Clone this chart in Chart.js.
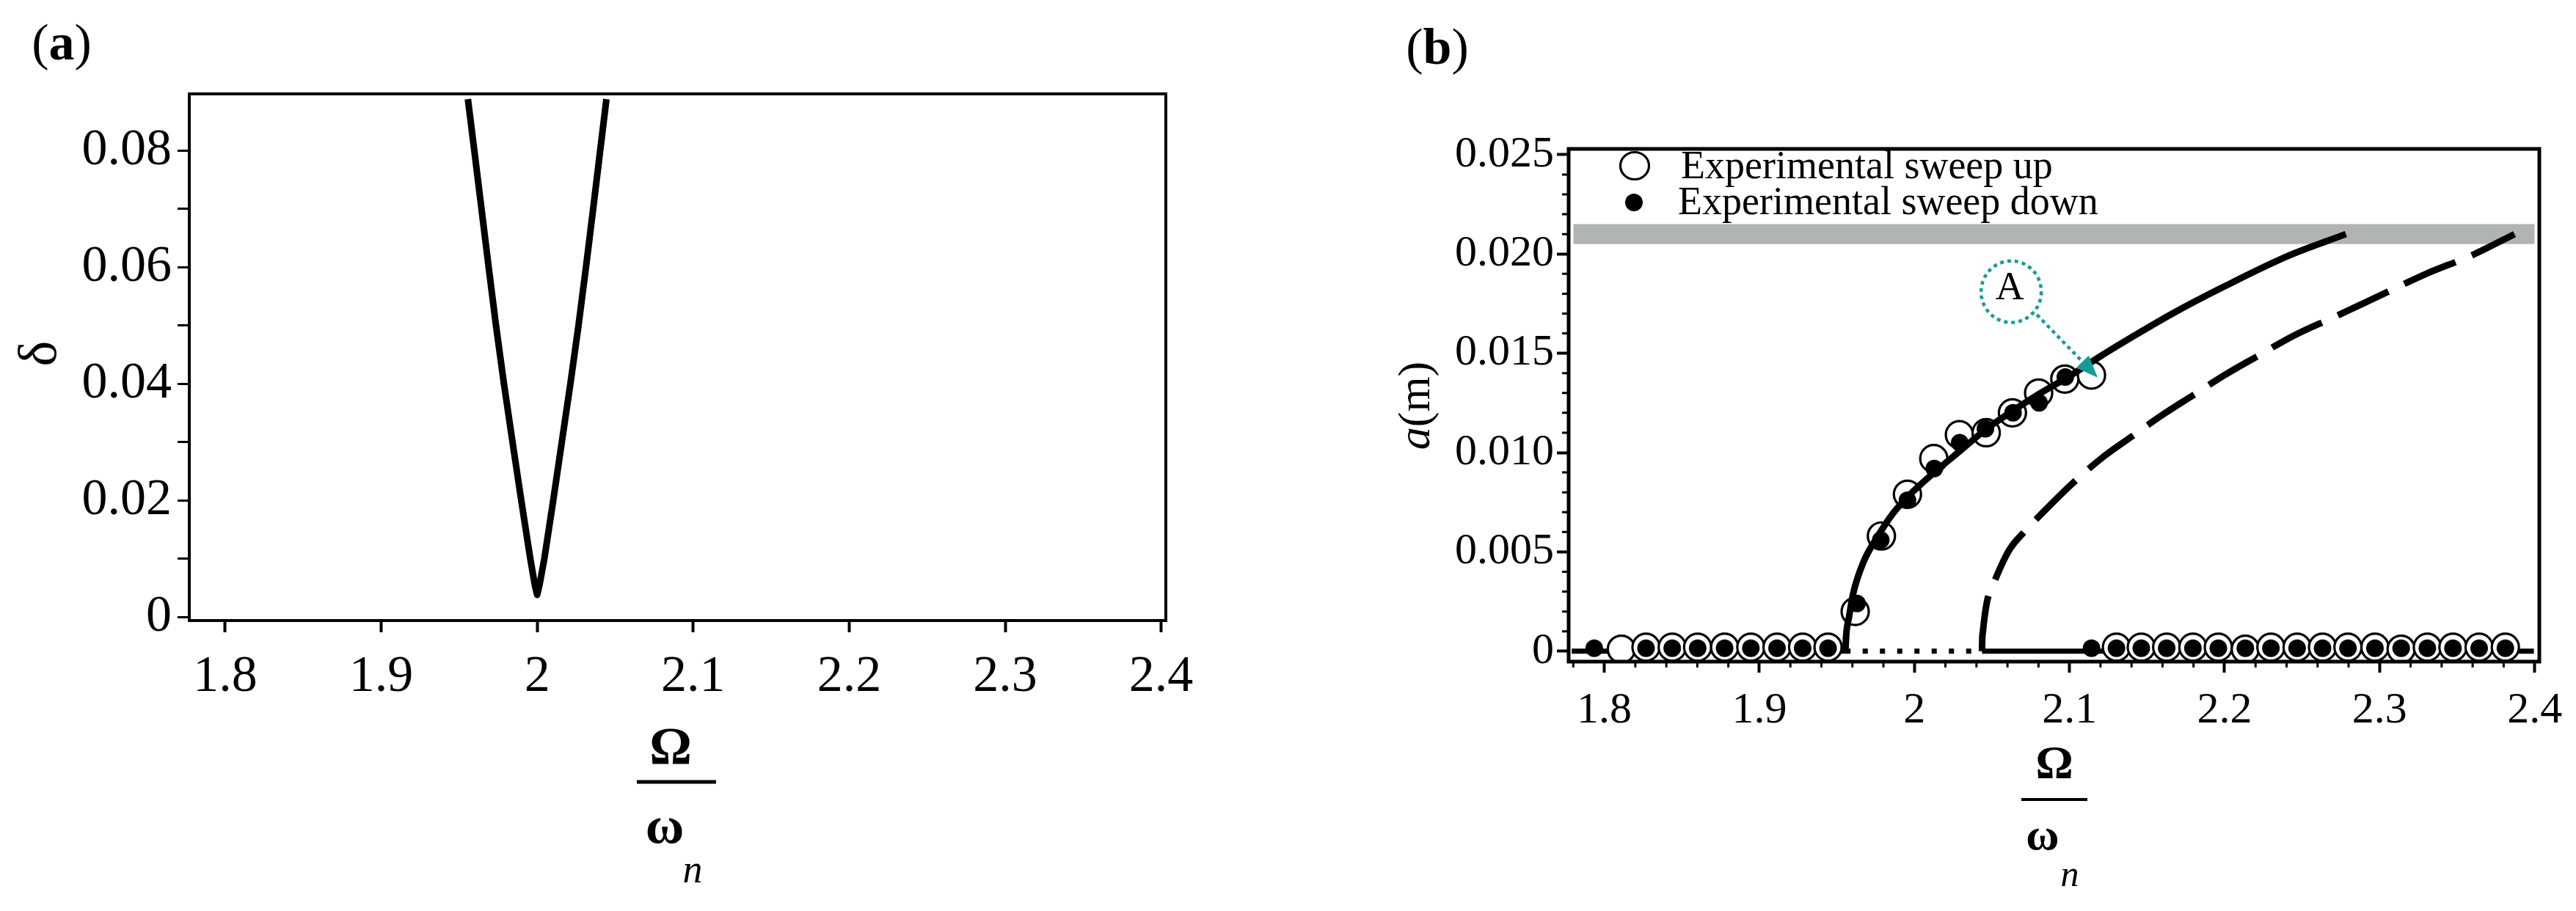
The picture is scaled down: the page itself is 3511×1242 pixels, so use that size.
<!DOCTYPE html>
<html>
<head>
<meta charset="utf-8">
<title>Instability tongue and response curve</title>
<script src="https://cdn.jsdelivr.net/npm/chart.js@4.4.1/dist/chart.umd.min.js"></script>
<style>
  html, body { margin: 0; padding: 0; background: #fff; }
  #wrap { position: relative; width: 3511px; height: 1242px; overflow: hidden; background: #fff; }
  canvas { position: absolute; top: 0; }
  #chartA { left: 0; }
  #chartB { left: 1760px; }
</style>
</head>
<body>
<div id="wrap">
  <canvas id="chartA" width="1760" height="1242"></canvas>
  <canvas id="chartB" width="1751" height="1242"></canvas>
</div>
<script>
// ---- values ----
const xTicks = [1.8, 1.9, 2.0, 2.1, 2.2, 2.3, 2.4];
const xTickLabels = ['1.8', '1.9', '2', '2.1', '2.2', '2.3', '2.4'];

// panel (a): delta vs Omega/omega_n
const yTicksA = [0, 0.01, 0.02, 0.03, 0.04, 0.05, 0.06, 0.07, 0.08];
const yTickLabelsA = ['0', '', '0.02', '', '0.04', '', '0.06', '', '0.08'];
const tongueX = [1.9556, 1.9597, 1.9643, 1.9689, 1.9736, 1.9787, 1.9842, 1.9898, 1.9956, 1.9985, 2.0000,
                 2.0015, 2.0046, 2.0103, 2.0158, 2.0213, 2.0265, 2.0313, 2.0359, 2.0404, 2.0444];
const tongueY = [0.0888, 0.0800, 0.0700, 0.0600, 0.0500, 0.0400, 0.0300, 0.0200, 0.0100, 0.0055, 0.0038,
                 0.0055, 0.0100, 0.0200, 0.0300, 0.0400, 0.0500, 0.0600, 0.0700, 0.0800, 0.0888];

// panel (b): amplitude vs Omega/omega_n
const yTicksB = [0, 0.005, 0.010, 0.015, 0.020, 0.025];
const yTickLabelsB = ['0', '0.005', '0.010', '0.015', '0.020', '0.025'];
const xMinorB = [1.78, 1.82, 1.84, 1.86, 1.88, 1.92, 1.94, 1.96, 1.98, 2.02, 2.04, 2.06, 2.08,
                 2.12, 2.14, 2.16, 2.18, 2.22, 2.24, 2.26, 2.28, 2.32, 2.34, 2.36, 2.38];
const yMinorB = [0.001, 0.002, 0.003, 0.004, 0.006, 0.007, 0.008, 0.009, 0.011, 0.012, 0.013, 0.014,
                 0.016, 0.017, 0.018, 0.019, 0.021, 0.022, 0.023, 0.024];

const bandX = [1.780, 2.400];
const bandLow = 0.0205;
const bandHigh = 0.0215;

const zeroLeftX = [1.7790, 1.9555];
const zeroRightX = [2.0436, 2.3995];
const zeroDottedX = [1.9555, 2.0436];

const stableX = [1.9555, 1.9560, 1.9579, 1.9605, 1.9672, 1.9757, 1.9858, 1.9960, 2.0128, 2.0297,
                 2.0466, 2.0634, 2.0804, 2.0990, 2.1200, 2.1400, 2.1664, 2.2008, 2.2410, 2.2783];
const stableY = [0, 0.0008, 0.00175, 0.0029, 0.0045, 0.0057, 0.0069, 0.0078, 0.0090, 0.0101,
                 0.0112, 0.0121, 0.01295, 0.0138, 0.01485, 0.0158, 0.0170, 0.0184, 0.0199, 0.0210];

const unstableX = [2.0436, 2.0437, 2.0442, 2.0452, 2.0471, 2.0515, 2.0612, 2.0720, 2.0830, 2.1040,
                   2.1220, 2.1400, 2.1600, 2.1800, 2.2000, 2.2200, 2.2450, 2.2700, 2.3000, 2.3300,
                   2.3600, 2.3870];
const unstableY = [0, 0.0005, 0.0010, 0.0017, 0.0026, 0.0035, 0.0051, 0.0061, 0.0070, 0.0086,
                   0.0098, 0.0108, 0.0119, 0.0129, 0.0139, 0.0148, 0.0159, 0.0168, 0.0179, 0.0190,
                   0.01995, 0.0210];

const sweepUpX = [1.8110, 1.8269, 1.8438, 1.8602, 1.8776, 1.8945, 1.9114, 1.9279, 1.9443,
                  1.9618, 1.9787, 1.9955, 2.0125, 2.0290, 2.0463, 2.0632, 2.0801, 2.0970, 2.1142,
                  2.1303, 2.1463, 2.1627, 2.1796, 2.1960, 2.2134, 2.2299, 2.2468, 2.2632, 2.2796,
                  2.2970, 2.3139, 2.3308, 2.3473, 2.3642, 2.3811];
const sweepUpY = [0.0001, 0.0002, 0.0002, 0.0002, 0.0002, 0.0002, 0.0002, 0.0002, 0.0002,
                  0.0020, 0.0058, 0.0079, 0.0097, 0.0109, 0.0110, 0.0120, 0.0130, 0.0137, 0.0139,
                  0.0002, 0.0002, 0.0002, 0.0002, 0.0002, 0.0001, 0.0002, 0.0002, 0.0002, 0.0002,
                  0.0002, 0.0001, 0.0002, 0.0002, 0.0002, 0.0002];

const sweepDownX = [1.7935, 1.8269, 1.8438, 1.8602, 1.8776, 1.8945, 1.9114, 1.9279, 1.9443,
                    1.9630, 1.9783, 1.9955, 2.0128, 2.0292, 2.0458, 2.0636, 2.0804, 2.0973,
                    2.1142, 2.1303, 2.1463, 2.1627, 2.1796, 2.1960, 2.2134, 2.2299, 2.2468, 2.2632,
                    2.2796, 2.2970, 2.3139, 2.3308, 2.3473, 2.3642, 2.3811];
const sweepDownY = [0.00015, 0.00015, 0.00015, 0.00015, 0.00015, 0.00015, 0.00015, 0.00015, 0.00015,
                    0.0024, 0.0056, 0.0076, 0.0092, 0.0105, 0.0112, 0.0120, 0.0125, 0.0138,
                    0.00015, 0.00015, 0.00015, 0.00015, 0.00015, 0.00015, 0.00015, 0.00015, 0.00015, 0.00015,
                    0.00015, 0.00015, 0.00015, 0.00015, 0.00015, 0.00015, 0.00015];

// annotation "A" (data units)
const noteCircle = [2.0624, 0.0181];
const noteArrowFrom = [2.0790, 0.01694];
const noteArrowTo = [2.1182, 0.01378];

const SERIF = '"Liberation Serif", "Times New Roman", serif';
const TEAL = '#179b96';

function pts(xs, ys) {
    return xs.map((x, i) => ({ x: x, y: ys[i] }));
}
function flat(xs, v) {
    return xs.map(x => ({ x: x, y: v }));
}

// frame around the plot area
const framePlugin = {
    id: 'frame',
    afterDatasetsDraw(chart, args, opts) {
        const { ctx, chartArea: a } = chart;
        ctx.save();
        ctx.strokeStyle = '#000';
        ctx.lineWidth = opts.width || 4;
        ctx.strokeRect(a.left, a.top, a.right - a.left, a.bottom - a.top);
        ctx.restore();
    }
};

// panel label like "(a)" with bold letter
function drawPanelLabel(ctx, letter, cx, cy, size) {
    ctx.save();
    ctx.textBaseline = 'middle';
    const fN = size + 'px ' + SERIF;
    const fB = 'bold ' + size + 'px ' + SERIF;
    ctx.font = fN; const wp = ctx.measureText('(').width;
    ctx.font = fB; const wl = ctx.measureText(letter).width;
    let x = cx - (2 * wp + wl) / 2;
    ctx.fillStyle = '#000';
    ctx.font = fN; ctx.fillText('(', x, cy); x += wp;
    ctx.font = fB; ctx.fillText(letter, x, cy); x += wl;
    ctx.font = fN; ctx.fillText(')', x, cy);
    ctx.restore();
}

// x title: Omega over omega with subscript n
function drawFraction(ctx, t) {
    ctx.save();
    ctx.fillStyle = '#000';
    ctx.textAlign = 'center';
    ctx.textBaseline = 'middle';
    ctx.font = 'bold ' + t.bigSize + 'px ' + SERIF;
    ctx.fillText('\u03A9', t.omegaBig[0], t.omegaBig[1]);
    ctx.fillRect(t.bar[0], t.bar[2] - t.barW / 2, t.bar[1] - t.bar[0], t.barW);
    ctx.font = 'bold ' + t.smallSize + 'px ' + SERIF;
    ctx.fillText('\u03C9', t.omega[0], t.omega[1]);
    ctx.font = 'italic ' + t.subSize + 'px ' + SERIF;
    ctx.fillText('n', t.sub[0], t.sub[1]);
    ctx.restore();
}

const textA = {
    id: 'textA',
    afterDraw(chart) {
        const ctx = chart.ctx;
        drawPanelLabel(ctx, 'a', 84, 63, 70);
        // y title delta, rotated
        ctx.save();
        ctx.translate(57, 482);
        ctx.rotate(-Math.PI / 2);
        ctx.textAlign = 'center';
        ctx.textBaseline = 'middle';
        ctx.fillStyle = '#000';
        ctx.font = '74px ' + SERIF;
        ctx.fillText('\u03B4', 0, 0);
        ctx.restore();
        drawFraction(ctx, {
            bigSize: 72, smallSize: 72, subSize: 54,
            omegaBig: [914, 1022], bar: [868, 976, 1066], barW: 5,
            omega: [906, 1130], sub: [944, 1189]
        });
    }
};

const axisDeco = {
    id: 'axisDeco',
    afterDraw(chart) {
        const { ctx, chartArea: a, scales } = chart;
        ctx.save();
        ctx.strokeStyle = '#000';
        ctx.lineWidth = 3;
        ctx.beginPath();
        xMinorB.forEach(v => {
            const px = scales.x.getPixelForValue(v);
            ctx.moveTo(px, a.bottom); ctx.lineTo(px, a.bottom + 8);
        });
        yMinorB.forEach(v => {
            const py = scales.y.getPixelForValue(v);
            ctx.moveTo(a.left, py); ctx.lineTo(a.left - 9, py);
        });
        ctx.stroke();
        ctx.restore();
    }
};

const textB = {
    id: 'textB',
    afterDraw(chart) {
        const ctx = chart.ctx;
        const sx = chart.scales.x, sy = chart.scales.y;
        drawPanelLabel(ctx, 'b', 199, 69, 70);

        // y title a(m)
        ctx.save();
        ctx.translate(172, 553);
        ctx.rotate(-Math.PI / 2);
        ctx.textBaseline = 'middle';
        ctx.fillStyle = '#000';
        const fi = 'italic 62px ' + SERIF, fn = '62px ' + SERIF;
        ctx.font = fi; const wa = ctx.measureText('a').width;
        ctx.font = fn; const wm = ctx.measureText('(m)').width;
        let x = -(wa + wm) / 2;
        ctx.font = fi; ctx.fillText('a', x, 0);
        ctx.font = fn; ctx.fillText('(m)', x + wa, 0);
        ctx.restore();

        drawFraction(ctx, {
            bigSize: 64, smallSize: 62, subSize: 50,
            omegaBig: [1040, 1044], bar: [995, 1085, 1090], barW: 4,
            omega: [1024, 1142], sub: [1061, 1195]
        });

        // legend
        ctx.save();
        ctx.strokeStyle = '#000';
        ctx.lineWidth = 3.2;
        ctx.fillStyle = '#fff';
        ctx.beginPath();
        ctx.ellipse(468, 226, 19.5, 18.5, 0, 0, Math.PI * 2);
        ctx.fill(); ctx.stroke();
        ctx.fillStyle = '#000';
        ctx.beginPath();
        ctx.arc(467, 276, 12, 0, Math.PI * 2);
        ctx.fill();
        ctx.font = '54px ' + SERIF;
        ctx.textBaseline = 'alphabetic';
        ctx.fillText('Experimental sweep up', 531, 243);
        ctx.fillText('Experimental sweep down', 527, 292);
        ctx.restore();

        // annotation A
        const cx = sx.getPixelForValue(noteCircle[0]), cy = sy.getPixelForValue(noteCircle[1]);
        const fx = sx.getPixelForValue(noteArrowFrom[0]), fy = sy.getPixelForValue(noteArrowFrom[1]);
        const tx = sx.getPixelForValue(noteArrowTo[0]), ty = sy.getPixelForValue(noteArrowTo[1]);
        ctx.save();
        ctx.strokeStyle = TEAL;
        ctx.lineWidth = 4.5;
        ctx.setLineDash([5, 5]);
        ctx.beginPath();
        ctx.ellipse(cx, cy, 41, 42, 0, 0, Math.PI * 2);
        ctx.stroke();
        const ang = Math.atan2(ty - fy, tx - fx);
        const headLen = 30, headW = 12;
        const bx = tx - headLen * Math.cos(ang), by = ty - headLen * Math.sin(ang);
        ctx.beginPath();
        ctx.moveTo(fx, fy); ctx.lineTo(bx, by);
        ctx.stroke();
        ctx.setLineDash([]);
        ctx.fillStyle = TEAL;
        ctx.beginPath();
        ctx.moveTo(tx, ty);
        ctx.lineTo(bx + headW * Math.sin(ang), by - headW * Math.cos(ang));
        ctx.lineTo(bx - headW * Math.sin(ang), by + headW * Math.cos(ang));
        ctx.closePath();
        ctx.fill();
        ctx.fillStyle = '#000';
        ctx.font = '54px ' + SERIF;
        ctx.textAlign = 'center';
        ctx.textBaseline = 'middle';
        ctx.fillText('A', cx - 2, cy - 4);
        ctx.restore();
    }
};

function linearAxis(opts) {
    return {
        type: 'linear',
        min: opts.min,
        max: opts.max,
        afterBuildTicks: s => { s.ticks = opts.values.map(v => ({ value: v })); },
        afterFit: s => {
            if (opts.width !== undefined) s.width = opts.width;
            if (opts.height !== undefined) s.height = opts.height;
        },
        border: { display: false },
        grid: {
            drawOnChartArea: false,
            drawTicks: true,
            tickLength: opts.tickLength,
            tickWidth: opts.tickWidth,
            tickColor: '#000'
        },
        ticks: {
            autoSkip: false,
            maxRotation: 0,
            minRotation: 0,
            padding: opts.padding,
            color: '#000',
            font: { family: SERIF, size: opts.fontSize },
            callback: (v, i) => opts.labels[i]
        }
    };
}

Chart.defaults.font.family = SERIF;

// ---- panel (a) ----
new Chart(document.getElementById('chartA'), {
    type: 'line',
    data: {
        datasets: [{
            data: pts(tongueX, tongueY),
            borderColor: '#000',
            borderWidth: 9,
            pointRadius: 0,
            borderJoinStyle: 'round',
            borderCapStyle: 'butt',
            tension: 0
        }]
    },
    options: {
        responsive: false,
        animation: false,
        devicePixelRatio: 1,
        layout: { padding: { left: 0, top: 128, right: 171, bottom: 0 } },
        plugins: { legend: { display: false }, tooltip: { enabled: false }, frame: { width: 4 } },
        scales: {
            x: linearAxis({ min: 1.777, max: 2.403, values: xTicks, labels: xTickLabels,
                            height: 396, tickLength: 16, tickWidth: 4, padding: 20, fontSize: 70 }),
            y: linearAxis({ min: -0.0006, max: 0.0897, values: yTicksA, labels: yTickLabelsA,
                            width: 258, tickLength: 16, tickWidth: 3, padding: 8, fontSize: 70 })
        }
    },
    plugins: [framePlugin, textA]
});

// ---- panel (b) ----
new Chart(document.getElementById('chartB'), {
    type: 'line',
    data: {
        datasets: [
            {   // grey band
                data: flat(bandX, bandHigh),
                fill: { value: bandLow },
                backgroundColor: '#b1b4b4',
                borderWidth: 0,
                pointRadius: 0,
                order: 7
            },
            {   // trivial solution left
                data: flat(zeroLeftX, 0),
                borderColor: '#000', borderWidth: 7, pointRadius: 0, borderCapStyle: 'butt',
                order: 6
            },
            {   // trivial solution right
                data: flat(zeroRightX, 0),
                borderColor: '#000', borderWidth: 7, pointRadius: 0, borderCapStyle: 'butt',
                order: 6
            },
            {   // unstable trivial (dotted)
                data: flat(zeroDottedX, 0),
                borderColor: '#000', borderWidth: 7, pointRadius: 0,
                borderDash: [7, 16.5], borderCapStyle: 'butt',
                order: 6
            },
            {   // experimental sweep up
                data: pts(sweepUpX, sweepUpY),
                showLine: false,
                pointRadius: 18.5,
                pointBorderWidth: 3.2,
                pointBorderColor: '#000',
                pointBackgroundColor: '#fff',
                order: 5
            },
            {   // stable branch
                data: pts(stableX, stableY),
                borderColor: '#000', borderWidth: 9, pointRadius: 0,
                borderCapStyle: 'butt', borderJoinStyle: 'round',
                cubicInterpolationMode: 'monotone',
                order: 4
            },
            {   // unstable branch
                data: pts(unstableX, unstableY),
                borderColor: '#000', borderWidth: 9, pointRadius: 0,
                borderDash: [76, 24], borderCapStyle: 'butt',
                cubicInterpolationMode: 'monotone',
                order: 3
            },
            {   // experimental sweep down
                data: pts(sweepDownX, sweepDownY),
                showLine: false,
                pointRadius: 12,
                pointBorderWidth: 0,
                pointBackgroundColor: '#000',
                order: 2
            }
        ]
    },
    options: {
        responsive: false,
        animation: false,
        devicePixelRatio: 1,
        layout: { padding: { left: 0, top: 203, right: 50, bottom: 0 } },
        plugins: { legend: { display: false }, tooltip: { enabled: false }, frame: { width: 5 } },
        scales: {
            x: linearAxis({ min: 1.777, max: 2.403, values: xTicks, labels: xTickLabels,
                            height: 340, tickLength: 15, tickWidth: 4, padding: 16, fontSize: 60 }),
            y: linearAxis({ min: -0.000525, max: 0.02529, values: yTicksB, labels: yTickLabelsB,
                            width: 378, tickLength: 16, tickWidth: 4, padding: 4, fontSize: 60 })
        }
    },
    plugins: [framePlugin, axisDeco, textB]
});
</script>
</body>
</html>
